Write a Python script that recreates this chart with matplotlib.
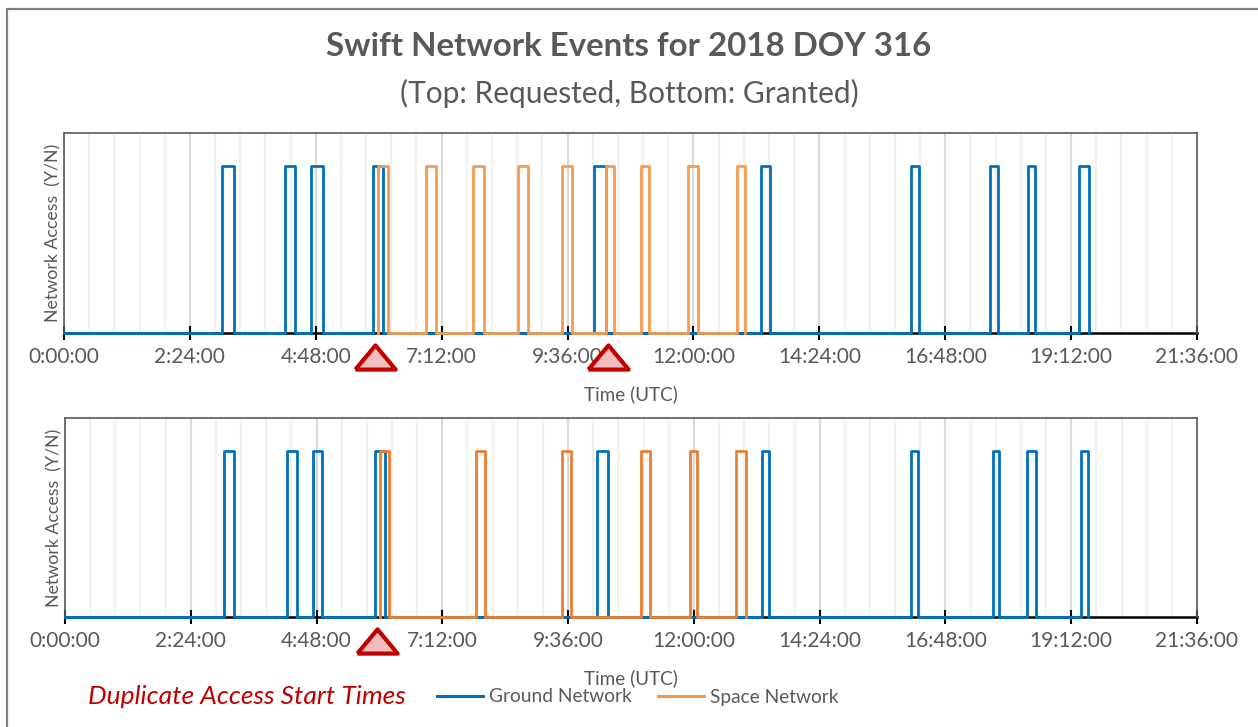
import matplotlib
matplotlib.use("Agg")
import matplotlib.pyplot as plt
from matplotlib.lines import Line2D
from matplotlib.patches import Rectangle
from matplotlib.transforms import blended_transform_factory

plt.rcParams['font.family'] = ['Lato', 'DejaVu Sans']

# ---------------- data (hours UTC) ----------------
req_ground_start = [3.01, 4.21, 4.70, 5.90, 10.11, 13.28, 16.15, 17.66, 18.37, 19.35]
req_ground_end   = [3.24, 4.41, 4.93, 6.08, 10.34, 13.45, 16.30, 17.80, 18.51, 19.54]
req_space_start  = [5.99, 6.91, 7.80, 8.65, 9.49, 10.34, 11.00, 11.89, 12.83]
req_space_end    = [6.17, 7.10, 8.00, 8.85, 9.68, 10.48, 11.15, 12.08, 12.98]

grn_ground_start = [3.04, 4.24, 4.73, 5.92, 10.15, 13.30, 16.14, 17.70, 18.36, 19.38]
grn_ground_end   = [3.22, 4.42, 4.91, 6.11, 10.36, 13.43, 16.28, 17.83, 18.53, 19.52]
grn_space_start  = [6.02, 7.84, 9.48, 11.00, 11.92, 12.81]
grn_space_end    = [6.19, 8.01, 9.66, 11.17, 12.06, 12.99]

req_duplicates = [5.93, 10.37]
grn_duplicates = [5.95]

tick_hours = [0, 2.4, 4.8, 7.2, 9.6, 12.0, 14.4, 16.8, 19.2, 21.6]
tick_labels = ["0:00:00", "2:24:00", "4:48:00", "7:12:00", "9:36:00",
               "12:00:00", "14:24:00", "16:48:00", "19:12:00", "21:36:00"]

title = "Swift Network Events for 2018 DOY 316"
subtitle = "(Top: Requested, Bottom: Granted)"

BLUE = "#0070C0"
ORANGE_LIGHT = "#F79A4E"
ORANGE_DARK = "#ED7D31"
GRAY_TXT = "#595959"


def step_series(starts, ends, x0=None):
    xs, ys = [], []
    if x0 is not None:
        xs.append(x0); ys.append(0)
    for s, e in zip(starts, ends):
        xs += [s, s, e, e]
        ys += [0, 1, 1, 0]
    return xs, ys


fig = plt.figure(figsize=(12.58, 7.27), dpi=100)

# outer chart frame
fig.patches.append(Rectangle((7 / 1258, -0.1), 1.2, 1 - 9 / 727 + 0.1,
                             transform=fig.transFigure, fill=False,
                             edgecolor="#808080", linewidth=1.6))

fig.text(0.5, 1 - 47 / 727, title, ha="center", va="center",
         fontsize=23.8, fontweight="bold", color=GRAY_TXT)
fig.text(0.5, 1 - 93 / 727, subtitle, ha="center", va="center",
         fontsize=21.5, color=GRAY_TXT)

ax_top = fig.add_axes([64 / 1258, (727 - 333) / 727, (1197 - 64) / 1258, 200 / 727])
ax_bot = fig.add_axes([65 / 1258, (727 - 617) / 727, (1197 - 65) / 1258, 199 / 727])

panels = [
    (ax_top, req_ground_start, req_ground_end, req_space_start, req_space_end,
     ORANGE_LIGHT, req_duplicates),
    (ax_bot, grn_ground_start, grn_ground_end, grn_space_start, grn_space_end,
     ORANGE_DARK, grn_duplicates),
]

tri = [(-1, -0.6), (1, -0.6), (0, 0.6), (-1, -0.6)]

for ax, gs, ge, ss, se, ocol, dups in panels:
    ax.set_xlim(0, 21.6)
    ax.set_ylim(0, 1.2)
    # gridlines
    minor = [i * 0.48 for i in range(46)]
    for m in minor:
        ax.axvline(m, color="#F0F0F0", lw=1.5, zorder=0)
    for t in tick_hours:
        ax.axvline(t, color="#D9D9D9", lw=1.5, zorder=0.5)

    gx, gy = step_series(gs, ge, x0=0)
    ax.plot(gx, gy, color=BLUE, lw=2.0, zorder=3, clip_on=False)
    sx, sy = step_series(ss, se)
    ax.plot(sx, sy, color=ocol, lw=2.0, zorder=4, clip_on=False)

    ax.set_xticks(tick_hours)
    ax.set_xticklabels(tick_labels)
    ax.tick_params(axis="x", direction="inout", length=10, width=1.5,
                   color="black", labelsize=15, labelcolor=GRAY_TXT, pad=5)
    ax.set_yticks([])
    for s in ["left", "top", "right"]:
        ax.spines[s].set_color("#595959")
        ax.spines[s].set_linewidth(1.2)
    ax.spines["bottom"].set_color("black")
    ax.spines["bottom"].set_linewidth(1.8)
    ax.spines["bottom"].set_zorder(2)
    ax.set_xlabel("Time (UTC)", fontsize=13.6, color=GRAY_TXT, labelpad=13)
    ax.set_ylabel("Network Access  (Y/N)", fontsize=12.8, color=GRAY_TXT, labelpad=2)

    trans = blended_transform_factory(ax.transData, ax.transAxes)
    ax.plot(dups, [-0.12] * len(dups), linestyle="none", marker=tri,
            markersize=29, markerfacecolor="#F2BDBD", markeredgecolor="#C00000",
            markeredgewidth=3, transform=trans, clip_on=False, zorder=6)

# legend
fig.text(88 / 1258, 1 - 697 / 727, "Duplicate Access Start Times", ha="left",
         va="center", fontsize=19, style="italic", color="#C00000")
handles = [Line2D([], [], color=BLUE, lw=2.2),
           Line2D([], [], color=ORANGE_LIGHT, lw=2.2)]
fig.legend(handles, ["Ground Network", "Space Network"], loc="center left",
           bbox_to_anchor=(437 / 1258, 1 - 697 / 727), ncol=2, frameon=False,
           fontsize=13.8, labelcolor=GRAY_TXT, handlelength=2.4,
           handletextpad=0.3, columnspacing=1.4, borderaxespad=0, borderpad=0)

fig.savefig("out.png", dpi=100)
